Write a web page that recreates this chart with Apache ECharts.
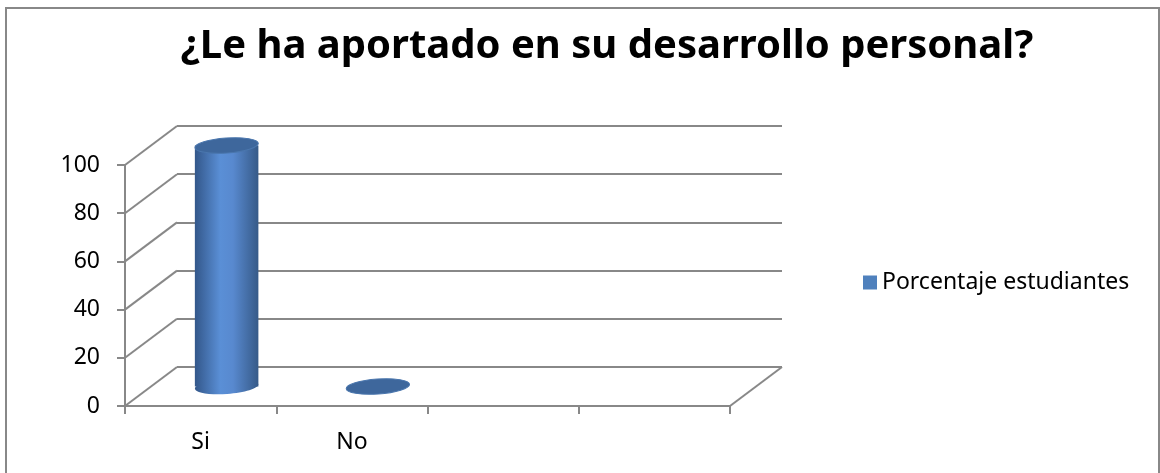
<!DOCTYPE html>
<html>
<head>
<meta charset="utf-8">
<script src="https://cdn.jsdelivr.net/npm/echarts@6/dist/echarts.min.js"></script>
<style>
html,body{margin:0;padding:0;background:#fff;}
#chart{width:1160px;height:473px;}
</style>
</head>
<body>
<div id="chart"></div>
<script>
// ---- data ----
const titleText = '¿Le ha aportado en su desarrollo personal?';
const seriesName = 'Porcentaje estudiantes';
const categories = ['Si', 'No', '', ''];
const values = [100, 0];
const yTicks = [0, 20, 40, 60, 80, 100];

// ---- style constants ----
const DX = 52, DY = -39;           // depth offset of the 3D back wall
const AXIS_GRAY = '#888888';
const FONT = "'Noto Sans', sans-serif";
const LABEL_FONT = "'Noto Sans', sans-serif";

const chart = echarts.init(document.getElementById('chart'));

function renderWalls(params, api) {
  const v = api.value(1);
  const cs = params.coordSys;
  const y = api.coord([0, v])[1];
  const children = [{
    type: 'line',
    shape: { x1: cs.x, y1: y, x2: cs.x + DX, y2: y + DY },
    style: { stroke: AXIS_GRAY, lineWidth: 2 }
  }];
  if (v === 0) {
    children.push({
      type: 'line',
      shape: { x1: cs.x + cs.width, y1: y, x2: cs.x + cs.width + DX, y2: y + DY },
      style: { stroke: AXIS_GRAY, lineWidth: 2 }
    });
  }
  return { type: 'group', children };
}

function renderCylinder(params, api) {
  const idx = api.value(0);
  const val = api.value(1);
  const top = api.coord([idx, val]);
  const base = api.coord([idx, 0]);
  const band = api.size([1, 0])[0];
  const rx = band * 0.21;
  const ry = 7.5;
  const cx = top[0] + DX / 2;
  const yTop = top[1] + DY / 2;
  const yBot = base[1] + DY / 2;
  const rot = 0.07;
  const bodyFill = new echarts.graphic.LinearGradient(0, 0, 1, 0, [
    { offset: 0, color: '#33578a' },
    { offset: 0.4, color: '#5a8fd6' },
    { offset: 0.6, color: '#5889cf' },
    { offset: 1, color: '#365a88' }
  ]);
  const children = [];
  if (yBot - yTop > 1) {
    children.push({
      type: 'ellipse',
      shape: { cx: cx, cy: yBot, rx: rx, ry: ry },
      rotation: rot, originX: cx, originY: yBot,
      style: { fill: bodyFill }
    });
    children.push({
      type: 'rect',
      shape: { x: cx - rx, y: yTop, width: rx * 2, height: yBot - yTop },
      style: { fill: bodyFill }
    });
  }
  children.push({
    type: 'ellipse',
    shape: { cx: cx, cy: yTop, rx: rx, ry: ry },
    rotation: rot, originX: cx, originY: yTop,
    style: { fill: '#3e679c', stroke: '#4a76ad', lineWidth: 1 }
  });
  return { type: 'group', children };
}

const option = {
  backgroundColor: '#ffffff',
  animation: false,
  title: {
    text: titleText,
    left: 602,
    textAlign: 'center',
    top: 22,
    textStyle: { fontFamily: FONT, fontWeight: 'bold', fontSize: 40, color: '#000' }
  },
  legend: {
    data: [seriesName],
    left: 863,
    top: 271,
    padding: 0,
    icon: 'rect',
    itemWidth: 14,
    itemHeight: 14,
    textStyle: { fontFamily: LABEL_FONT, fontSize: 23, color: '#000' }
  },
  graphic: [{
    type: 'rect',
    shape: { x: 6, y: 8, width: 1153, height: 470 },
    style: { fill: 'none', stroke: AXIS_GRAY, lineWidth: 2 },
    silent: true,
    z: -1
  }],
  grid: [
    { left: 125, top: 165, width: 605, height: 241 },
    { left: 177, top: 126, width: 605, height: 241 }
  ],
  xAxis: [
    {
      type: 'category', gridIndex: 0, data: categories,
      axisLine: { lineStyle: { color: AXIS_GRAY, width: 2 } },
      axisTick: { show: true, length: 8, lineStyle: { color: AXIS_GRAY, width: 2 } },
      axisLabel: { margin: 25, fontFamily: LABEL_FONT, fontSize: 23, color: '#000', interval: 0 },
      splitLine: { show: false }
    },
    {
      type: 'category', gridIndex: 1, data: categories,
      show: false
    }
  ],
  yAxis: [
    {
      type: 'value', gridIndex: 0, min: 0, max: 100, interval: 20,
      axisLine: { show: true, lineStyle: { color: AXIS_GRAY, width: 2 } },
      axisTick: { show: true, length: 8, lineStyle: { color: AXIS_GRAY, width: 2 } },
      axisLabel: { margin: 25, fontFamily: LABEL_FONT, fontSize: 23, color: '#000' },
      splitLine: { show: false }
    },
    {
      type: 'value', gridIndex: 1, min: 0, max: 100, interval: 20,
      axisLine: { show: false },
      axisTick: { show: false },
      axisLabel: { show: false },
      splitLine: { show: true, lineStyle: { color: AXIS_GRAY, width: 2 } }
    }
  ],
  series: [
    {
      type: 'custom',
      name: 'walls',
      xAxisIndex: 0, yAxisIndex: 0,
      renderItem: renderWalls,
      data: yTicks.map(v => [0, v]),
      silent: true,
      z: 1
    },
    {
      type: 'custom',
      name: seriesName,
      xAxisIndex: 0, yAxisIndex: 0,
      itemStyle: { color: '#4f81bd' },
      renderItem: renderCylinder,
      data: values.map((v, i) => [i, v]),
      z: 5
    }
  ]
};
chart.setOption(option);
</script>
</body>
</html>
